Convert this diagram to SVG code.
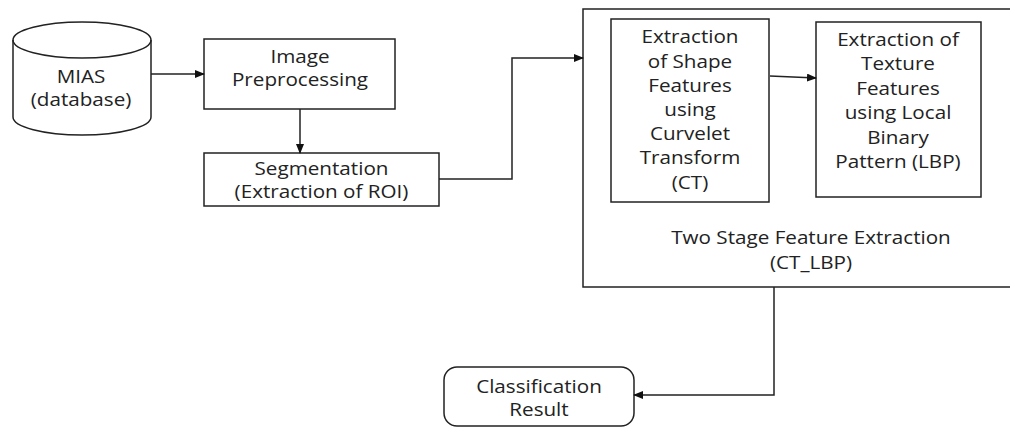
<svg xmlns="http://www.w3.org/2000/svg" width="1010" height="427" viewBox="0 0 1010 427">
<defs>
<style>
.box{fill:#fff;stroke:#222;stroke-width:1.5}
.ln{fill:none;stroke:#222;stroke-width:1.5}
text{font-family:"Open Sans","DejaVu Sans",sans-serif;font-size:17.5px;fill:#222;text-anchor:middle;dominant-baseline:central}
</style>
<marker id="ah" markerWidth="10" markerHeight="8" refX="9" refY="4" orient="auto" markerUnits="userSpaceOnUse">
<path d="M0,0 L10,4 L0,8 Z" fill="#111"/>
</marker>
</defs>
<rect width="1010" height="427" fill="#fff"/>
<g id="mias">
<path class="box" d="M13,40 L13,117 A69,18 0 0 0 151,117 L151,40 A69,18 0 0 0 13,40 Z"/>
<path class="ln" d="M13,40 A69,18 0 0 0 151,40"/>
<g transform="translate(81 0) scale(1.18 1)">
<text x="0" y="77">MIAS</text>
<text x="0" y="100">(database)</text>
</g>
</g>
<g id="preproc">
<rect class="box" x="204" y="39" width="191" height="70"/>
<g transform="translate(300 0) scale(1.18 1)">
<text x="0" y="57">Image</text>
<text x="0" y="80">Preprocessing</text>
</g>
</g>
<g id="segment">
<rect class="box" x="204" y="153" width="235" height="53"/>
<g transform="translate(321.5 0) scale(1.18 1)">
<text x="0" y="169">Segmentation</text>
<text x="0" y="192">(Extraction of ROI)</text>
</g>
</g>
<g id="fe">
<path class="ln" d="M1012,9 L583,9 L583,287 L1012,287"/>
<g transform="translate(811 0) scale(1.18 1)">
<text x="0" y="238">Two Stage Feature Extraction</text>
<text x="0" y="263">(CT_LBP)</text>
</g>
</g>
<g id="shape">
<rect class="box" x="611" y="19" width="158" height="183"/>
<g transform="translate(690 0) scale(1.18 1)">
<text x="0" y="37">Extraction</text>
<text x="0" y="62">of Shape</text>
<text x="0" y="86">Features</text>
<text x="0" y="110">using</text>
<text x="0" y="134">Curvelet</text>
<text x="0" y="158">Transform</text>
<text x="0" y="183">(CT)</text>
</g>
</g>
<g id="texture">
<rect class="box" x="816" y="22" width="165" height="175"/>
<g transform="translate(898 0) scale(1.18 1)">
<text x="0" y="40">Extraction of</text>
<text x="0" y="64">Texture</text>
<text x="0" y="89">Features</text>
<text x="0" y="113">using Local</text>
<text x="0" y="138">Binary</text>
<text x="0" y="162">Pattern (LBP)</text>
</g>
</g>
<g id="result">
<rect class="box" x="444" y="367" width="190" height="59" rx="13"/>
<g transform="translate(539 0) scale(1.18 1)">
<text x="0" y="387">Classification</text>
<text x="0" y="410">Result</text>
</g>
</g>
<g id="connectors">
<path class="ln" d="M151,74 L204,74" marker-end="url(#ah)"/>
<path class="ln" d="M300,109 L300,153" marker-end="url(#ah)"/>
<path class="ln" d="M439,179 L512,179 L512,58 L583,58" marker-end="url(#ah)"/>
<path class="ln" d="M770,76 L816,78" marker-end="url(#ah)"/>
<path class="ln" d="M774,287 L774,395 L634,395" marker-end="url(#ah)"/>
</g>
</svg>
